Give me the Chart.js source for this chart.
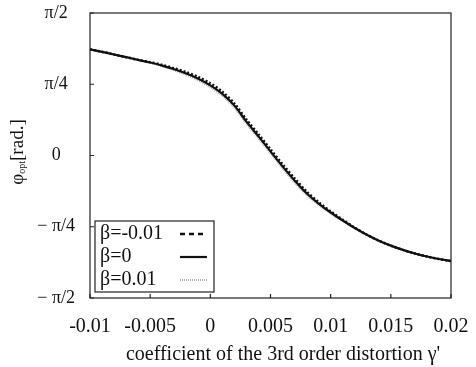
<!DOCTYPE html>
<html>
<head>
<meta charset="utf-8">
<script src="https://cdn.jsdelivr.net/npm/chart.js@4.4.1/dist/chart.umd.min.js"></script>
<style>
  html, body { margin: 0; padding: 0; background: #fff; }
  #wrap { width: 476px; height: 367px; position: relative; }
</style>
</head>
<body>
<div id="wrap"><canvas id="phiChart"></canvas></div>
<script>
// gamma' values (x axis)
const gammaValues = [
  -0.010, -0.009, -0.008, -0.007, -0.006, -0.005, -0.004, -0.003, -0.002, -0.001,
   0.000,  0.001,  0.002,  0.003,  0.004,  0.005,  0.006,  0.007,  0.008,  0.009,
   0.010,  0.011,  0.012,  0.013,  0.014,  0.015,  0.016,  0.017,  0.018,  0.019, 0.020
];
// phi_opt in units of pi/4
const phiBetaMinus = [
  1.490, 1.455, 1.418, 1.380, 1.342, 1.310, 1.272, 1.225, 1.170, 1.103,
  1.013, 0.895, 0.730, 0.505, 0.298, 0.088, -0.122, -0.320, -0.505, -0.655,
  -0.785, -0.902, -1.012, -1.112, -1.195, -1.265, -1.325, -1.375, -1.418, -1.453, -1.482
];
const phiBetaZero = [
  1.490, 1.455, 1.418, 1.380, 1.342, 1.305, 1.262, 1.210, 1.150, 1.078,
  0.985, 0.865, 0.700, 0.475, 0.268, 0.058, -0.152, -0.350, -0.530, -0.675,
  -0.800, -0.912, -1.017, -1.112, -1.195, -1.265, -1.325, -1.375, -1.418, -1.453, -1.482
];
const phiBetaPlus = [
  1.490, 1.455, 1.418, 1.380, 1.342, 1.300, 1.252, 1.195, 1.130, 1.053,
  0.957, 0.835, 0.670, 0.445, 0.238, 0.028, -0.182, -0.380, -0.555, -0.695,
  -0.815, -0.922, -1.022, -1.112, -1.195, -1.265, -1.325, -1.375, -1.418, -1.453, -1.482
];
const betaLabels = ['\u03b2=-0.01', '\u03b2=0', '\u03b2=0.01'];
const xTicks = [-0.01, -0.005, 0, 0.005, 0.01, 0.015, 0.02];
const xTickLabels = ['-0.01', '-0.005', '0', '0.005', '0.01', '0.015', '0.02'];
const yTicks = [-2, -1, 0, 1, 2];
const yTickLabels = ['\u2212 \u03c0/2', '\u2212 \u03c0/4', '0', '\u03c0/4', '\u03c0/2'];
const xTitle = "coefficient of the 3rd order distortion \u03b3'";

const serif = '"Liberation Serif", "DejaVu Serif", serif';

function toPoints(ys) {
  return gammaValues.map((g, i) => ({ x: g, y: ys[i] }));
}

// frame, inside tick marks, axis titles, boxed legend
const decorPlugin = {
  id: 'decor',
  afterDraw(chart) {
    const { ctx, chartArea: a, scales } = chart;
    ctx.save();
    ctx.strokeStyle = '#222';
    ctx.lineWidth = 1.2;
    ctx.strokeRect(a.left, a.top, a.right - a.left, a.bottom - a.top);

    ctx.beginPath();
    xTicks.forEach(v => {
      const px = scales.x.getPixelForValue(v);
      ctx.moveTo(px, a.bottom);
      ctx.lineTo(px, a.bottom - 4);
    });
    yTicks.forEach(v => {
      const py = scales.y.getPixelForValue(v);
      ctx.moveTo(a.left, py);
      ctx.lineTo(a.left + 4, py);
    });
    ctx.stroke();

    // x axis title
    ctx.fillStyle = '#111';
    ctx.font = '20px ' + serif;
    ctx.textAlign = 'center';
    ctx.textBaseline = 'middle';
    ctx.fillText(xTitle, 283, 355);

    // y axis title: phi_opt[rad.]
    ctx.translate(18, 152);
    ctx.rotate(-Math.PI / 2);
    const parts = [
      { t: '\u03c6', f: '19px ' + serif, dy: 0 },
      { t: 'opt', f: '10px ' + serif, dy: 4 },
      { t: '[rad.]', f: '19px ' + serif, dy: 0 }
    ];
    let total = 0;
    parts.forEach(p => { ctx.font = p.f; total += ctx.measureText(p.t).width; });
    let cx = -total / 2;
    ctx.textAlign = 'left';
    parts.forEach(p => {
      ctx.font = p.f;
      ctx.fillText(p.t, cx, p.dy);
      cx += ctx.measureText(p.t).width;
    });
    ctx.restore();

    // legend box
    ctx.save();
    const bx = 95, by = 221, bw = 119, bh = 71;
    ctx.fillStyle = '#fff';
    ctx.fillRect(bx, by, bw, bh);
    ctx.strokeStyle = '#222';
    ctx.lineWidth = 1.2;
    ctx.strokeRect(bx, by, bw, bh);
    ctx.font = '20px ' + serif;
    ctx.textBaseline = 'middle';
    ctx.textAlign = 'left';
    const rows = [234, 257, 280];
    chart.data.datasets.forEach(ds => {
      const r = rows[ds.order];
      ctx.fillStyle = '#111';
      ctx.fillText(ds.label, bx + 5, r);
      ctx.strokeStyle = ds.borderColor;
      ctx.lineWidth = ds.borderWidth;
      ctx.setLineDash(ds.legendDash || []);
      ctx.beginPath();
      ctx.moveTo(180, r);
      ctx.lineTo(207, r);
      ctx.stroke();
      ctx.setLineDash([]);
    });
    ctx.restore();
  }
};

new Chart(document.getElementById('phiChart'), {
  type: 'line',
  data: {
    datasets: [
      {
        label: betaLabels[2],
        data: toPoints(phiBetaPlus),
        borderColor: '#b0b0b0',
        borderWidth: 2,
        borderDash: [1, 1],
        legendDash: [1, 1],
        order: 2
      },
      {
        label: betaLabels[1],
        data: toPoints(phiBetaZero),
        borderColor: '#111',
        borderWidth: 2.2,
        order: 1
      },
      {
        label: betaLabels[0],
        data: toPoints(phiBetaMinus),
        borderColor: '#111',
        borderWidth: 2.5,
        borderDash: [2, 2],
        legendDash: [5, 4],
        order: 0
      }
    ]
  },
  options: {
    responsive: true,
    maintainAspectRatio: false,
    animation: false,
    devicePixelRatio: 1,
    layout: { padding: { left: 28, right: 25, top: 13, bottom: 0 } },
    elements: {
      point: { radius: 0 },
      line: { tension: 0.3, fill: false }
    },
    plugins: { legend: { display: false }, tooltip: { enabled: false } },
    scales: {
      x: {
        type: 'linear',
        min: -0.01,
        max: 0.02,
        grid: { display: false, drawTicks: false },
        border: { display: false },
        afterBuildTicks: s => { s.ticks = xTicks.map(v => ({ value: v })); },
        afterFit: s => {
          s.height = 367 - 298;
          s.paddingLeft = 0;
          s.paddingRight = 0;
        },
        ticks: {
          padding: 17,
          maxRotation: 0,
          autoSkip: false,
          color: '#111',
          font: { family: serif, size: 20 },
          callback: (v) => xTickLabels[xTicks.indexOf(v)]
        }
      },
      y: {
        type: 'linear',
        min: -2,
        max: 2,
        grid: { display: false, drawTicks: false },
        border: { display: false },
        afterBuildTicks: s => { s.ticks = yTicks.map(v => ({ value: v })); },
        afterFit: s => {
          s.width = 90 - 28;
          s.paddingTop = 0;
          s.paddingBottom = 0;
        },
        ticks: {
          padding: 15,
          crossAlign: 'center',
          color: '#111',
          font: { family: serif, size: 18 },
          callback: (v) => yTickLabels[yTicks.indexOf(v)]
        }
      }
    }
  },
  plugins: [decorPlugin]
});
</script>
</body>
</html>
